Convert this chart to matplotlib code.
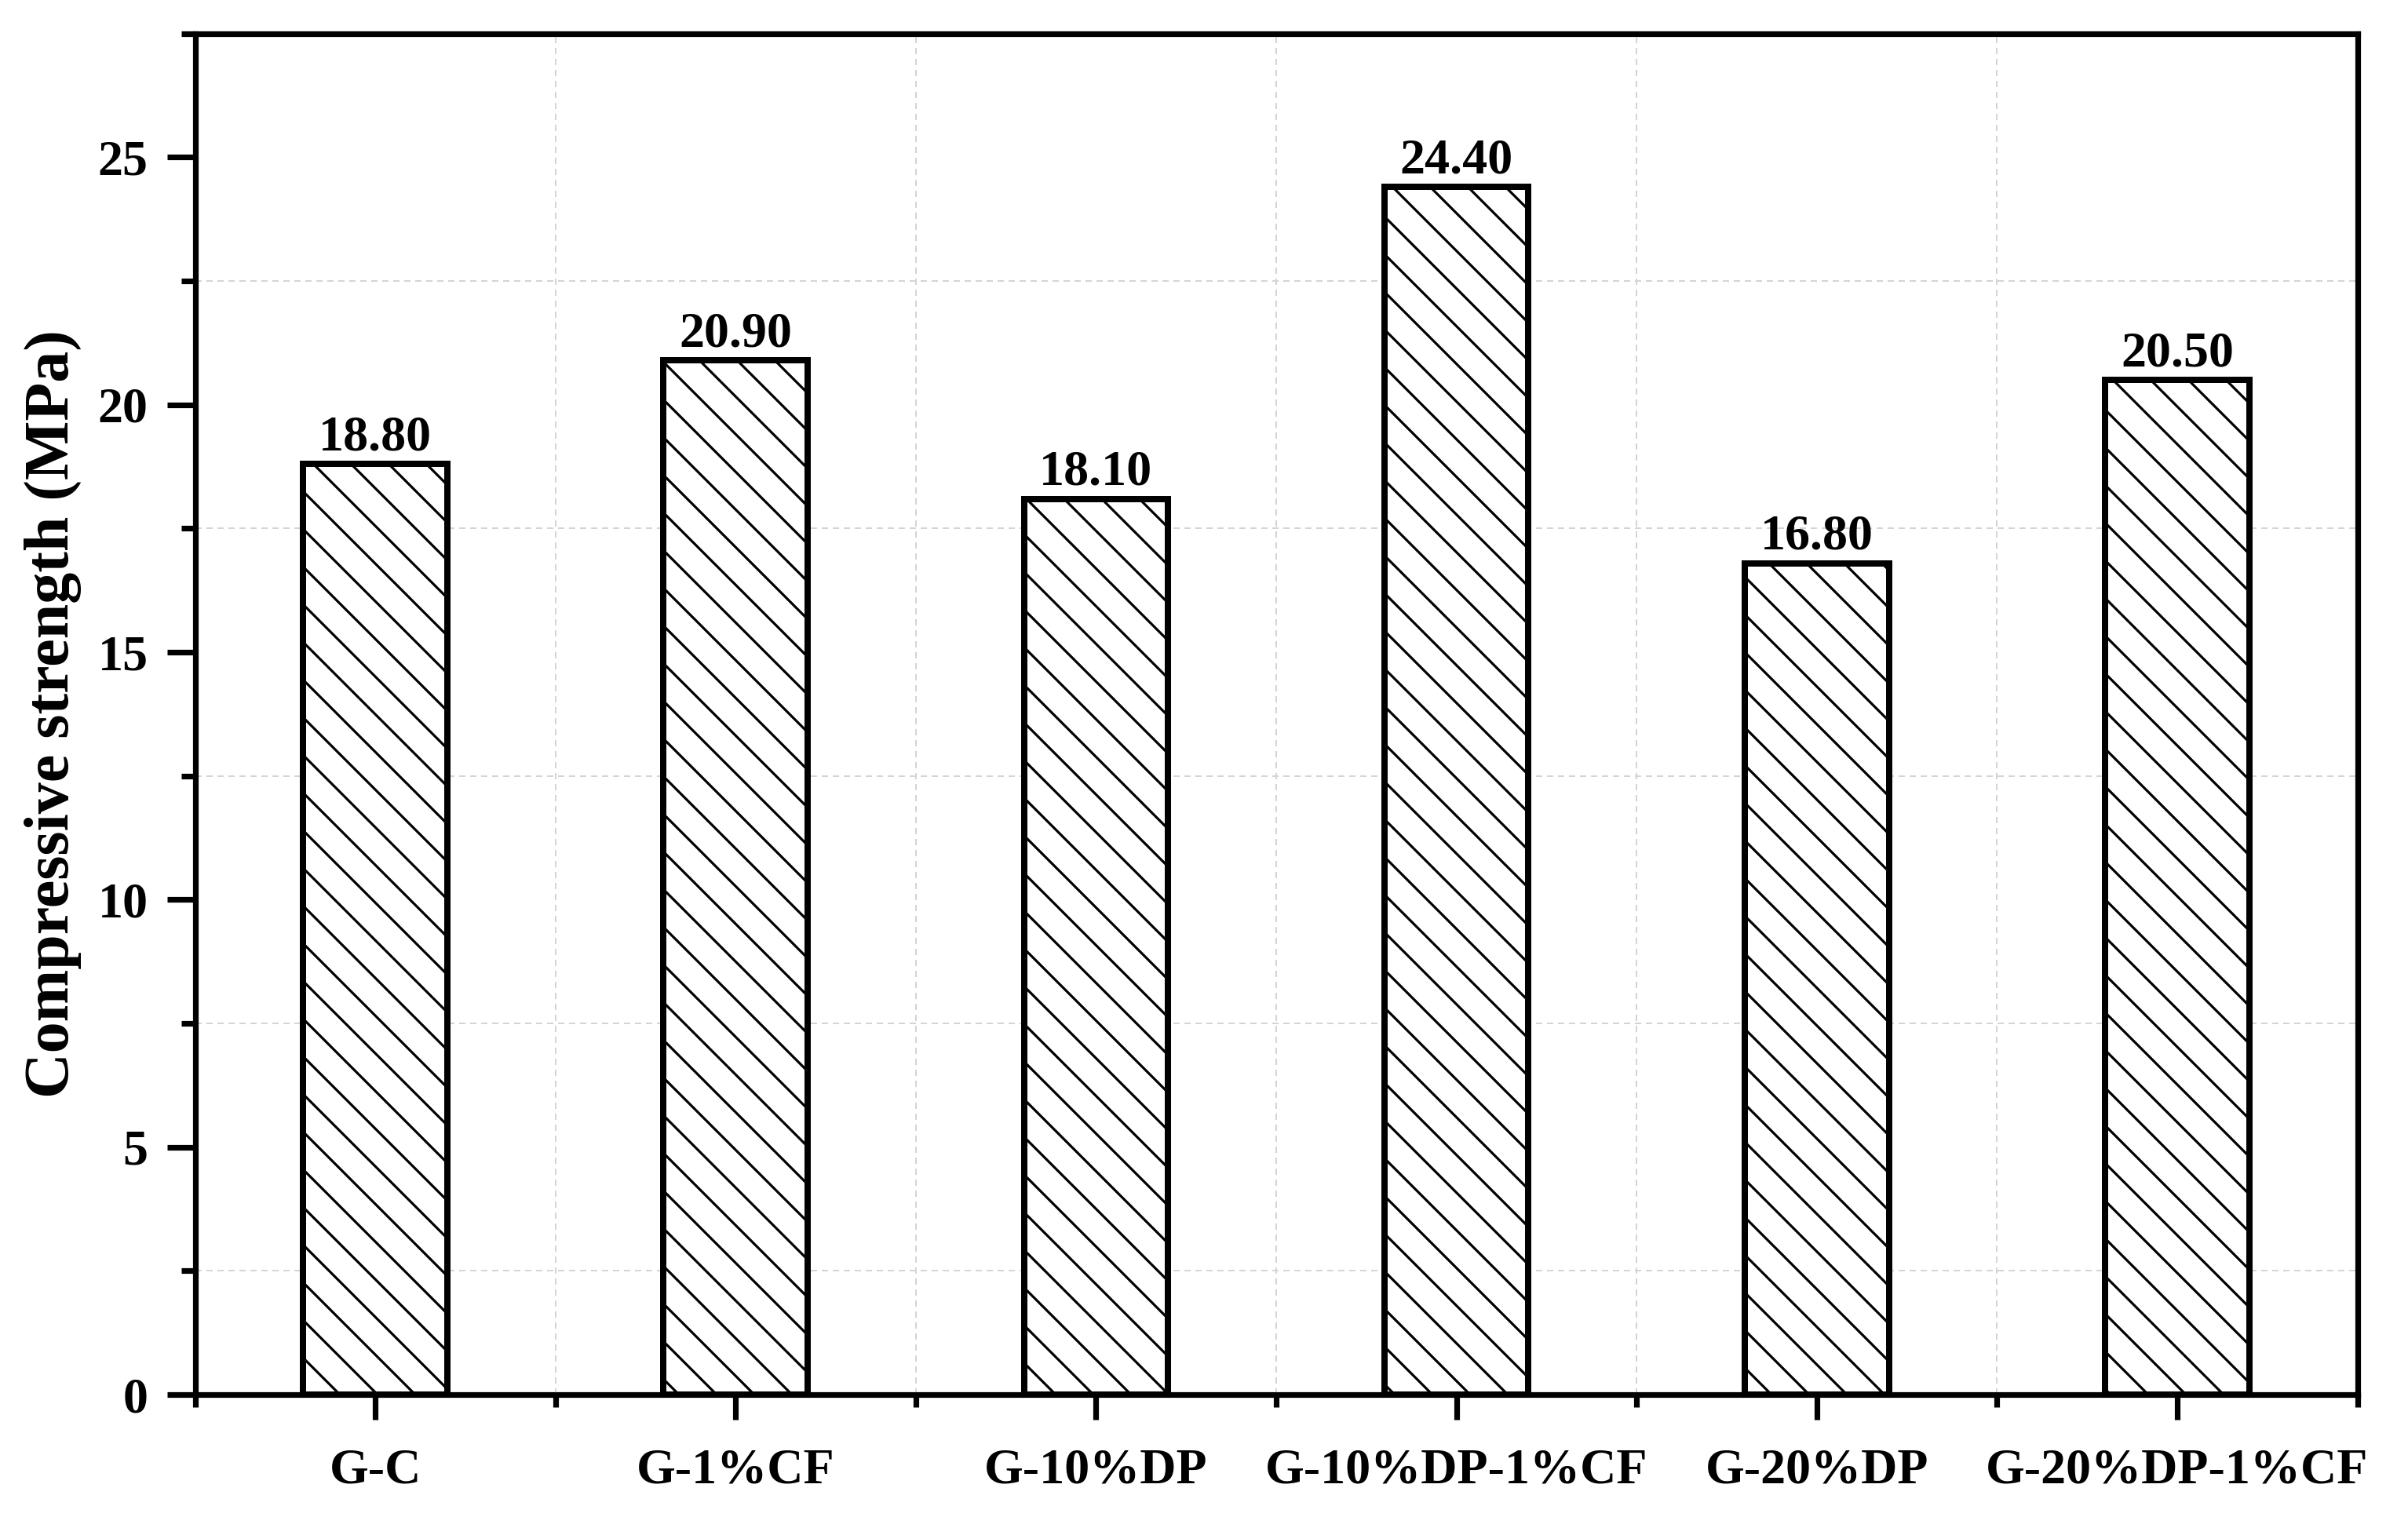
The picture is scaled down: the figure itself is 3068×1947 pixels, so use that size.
import numpy as np
import matplotlib
matplotlib.use("Agg")
import matplotlib.pyplot as plt
from matplotlib.ticker import MultipleLocator, FixedLocator

# data
categories = ["G-C", "G-1%CF", "G-10%DP", "G-10%DP-1%CF", "G-20%DP", "G-20%DP-1%CF"]
strength = [18.80, 20.90, 18.10, 24.40, 16.80, 20.50]
y_ticks = [0, 5, 10, 15, 20, 25]

plt.rcParams["font.family"] = ["Liberation Serif", "DejaVu Serif"]
plt.rcParams["font.weight"] = "bold"
plt.rcParams["hatch.linewidth"] = 0.8
plt.rcParams["hatch.color"] = "black"

DPI = 288
fig = plt.figure(figsize=(3068 / DPI, 1947 / DPI), dpi=DPI)
ax = fig.add_axes([0.081, 0.0873, 0.898, 0.8907])

x = np.arange(len(categories))
bars = ax.bar(x, strength, width=0.4, color="white", edgecolor="black",
              linewidth=2.0, hatch="\\\\", zorder=3)
ax.bar_label(bars, labels=[f"{v:.2f}" for v in strength], padding=1,
             fontsize=16, fontweight="bold", zorder=4)

ax.set_xlim(-0.5, len(categories) - 0.5)
ax.set_ylim(0, 27.5)

ax.set_xticks(x)
ax.set_xticklabels(categories, fontsize=16, fontweight="bold")
ax.xaxis.set_minor_locator(FixedLocator(np.arange(-0.5, len(categories), 1.0)))
ax.set_yticks(y_ticks)
ax.set_yticklabels([str(t) for t in y_ticks], fontsize=16, fontweight="bold")
ax.yaxis.set_minor_locator(MultipleLocator(2.5))

ax.tick_params(axis="y", which="major", direction="out", length=9, width=1.8, pad=6)
ax.tick_params(axis="y", which="minor", direction="out", length=4.5, width=1.8)
ax.tick_params(axis="x", which="major", direction="out", length=8, width=1.8, pad=9)
ax.tick_params(axis="x", which="minor", direction="out", length=4, width=1.8)
ax.tick_params(top=False, right=False, which="both")

for sp in ax.spines.values():
    sp.set_linewidth(1.8)

ax.grid(which="minor", color="#d4d4d4", linestyle=(0, (4, 3)), linewidth=0.5, zorder=0)
ax.grid(which="major", visible=False)
ax.set_axisbelow(True)

ax.set_ylabel("Compressive strength (MPa)", fontsize=20, fontweight="bold", labelpad=5)

fig.savefig("out.png", dpi=DPI)
